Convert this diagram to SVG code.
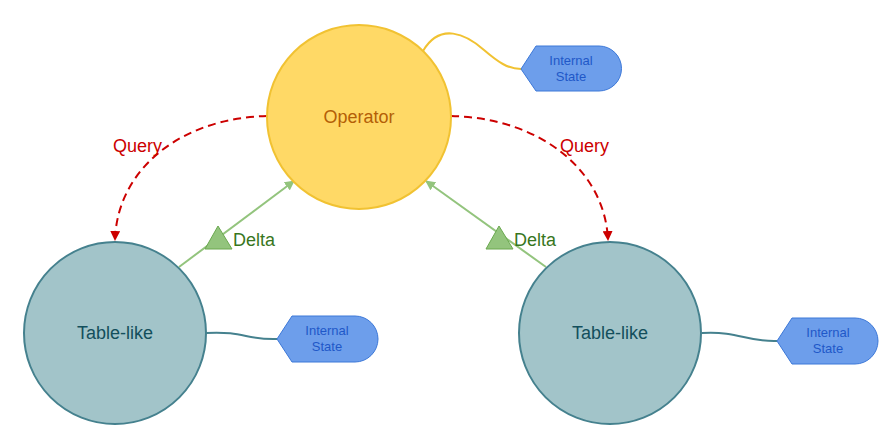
<svg xmlns="http://www.w3.org/2000/svg" width="893" height="435" viewBox="0 0 893 435">
<defs>
<style>
text{font-family:"Liberation Sans",Arial,sans-serif}
.op{fill:#ffd966;stroke:#f1c232;stroke-width:2}
.tb{fill:#a2c4c9;stroke:#45818e;stroke-width:2}
.st{fill:#6d9eeb;stroke:#3c78d8;stroke-width:1}
.stt{fill:#1f58c8;font-size:13px;text-anchor:middle}
.big{font-size:18px;text-anchor:middle}
.q{fill:none;stroke:#cc0000;stroke-width:2;stroke-dasharray:8,5}
.d{fill:none;stroke:#93c47d;stroke-width:2}
.tri{fill:#93c47d;stroke:#6aa84f;stroke-width:1}
.ql{fill:#cc0000;font-size:18px}
.dl{fill:#38761d;font-size:18px}
</style>
<marker id="ar" viewBox="0 0 10 10" refX="9" refY="5" markerWidth="5" markerHeight="5" orient="auto" markerUnits="strokeWidth"><path d="M0,0 L10,5 L0,10 z" fill="#cc0000"/></marker>
<marker id="ag" viewBox="0 0 10 10" refX="9" refY="5" markerWidth="5" markerHeight="5" orient="auto" markerUnits="strokeWidth"><path d="M0,0 L10,5 L0,10 z" fill="#93c47d"/></marker>
</defs>
<g id="connectors">
<path d="M423,51 C440,22 466,34 484,50 C498,62 508,69 521,69" fill="none" stroke="#f1c232" stroke-width="2"/>
<path d="M206,333 C245,331 245,340 277,339" fill="none" stroke="#45818e" stroke-width="2"/>
<path d="M702,333 C740,331 745,342 777,341" fill="none" stroke="#45818e" stroke-width="2"/>
<path class="q" d="M267,116 C180,118 117,170 115,240" marker-end="url(#ar)"/>
<path class="q" d="M451,116 C540,118 605,170 608,240" marker-end="url(#ar)"/>
<path class="d" d="M179,267 L294,181" marker-end="url(#ag)"/>
<path class="d" d="M546,267 L426,181" marker-end="url(#ag)"/>
<polygon class="tri" points="218,226 205,249 232,249"/>
<polygon class="tri" points="499,226 486,249 513,249"/>
<text class="ql" x="113" y="152">Query</text>
<text class="ql" x="560" y="152">Query</text>
<text class="dl" x="233" y="246">Delta</text>
<text class="dl" x="514" y="246">Delta</text>
</g>
<g id="operator">
<circle class="op" cx="359" cy="117" r="92"/>
<text class="big" x="359" y="123" fill="#b45f06">Operator</text>
</g>
<g id="table-left">
<circle class="tb" cx="115" cy="333" r="91"/>
<text class="big" x="115" y="339" fill="#134f5c">Table-like</text>
</g>
<g id="table-right">
<circle class="tb" cx="610" cy="333" r="91"/>
<text class="big" x="610" y="339" fill="#134f5c">Table-like</text>
</g>
<g id="state-top">
<path class="st" d="M521,69 L536,46 L599,46 A22.5,22.5 0 0 1 599,91 L536,91 Z"/>
<text class="stt" x="571" y="65">Internal</text>
<text class="stt" x="571" y="81">State</text>
</g>
<g id="state-left">
<path class="st" d="M277,339 L292,316 L355,316 A23,23 0 0 1 355,362 L292,362 Z"/>
<text class="stt" x="327" y="335">Internal</text>
<text class="stt" x="327" y="351">State</text>
</g>
<g id="state-right">
<path class="st" d="M777,341 L792,318 L855,318 A23,23 0 0 1 855,364 L792,364 Z"/>
<text class="stt" x="828" y="337">Internal</text>
<text class="stt" x="828" y="353">State</text>
</g>
</svg>
